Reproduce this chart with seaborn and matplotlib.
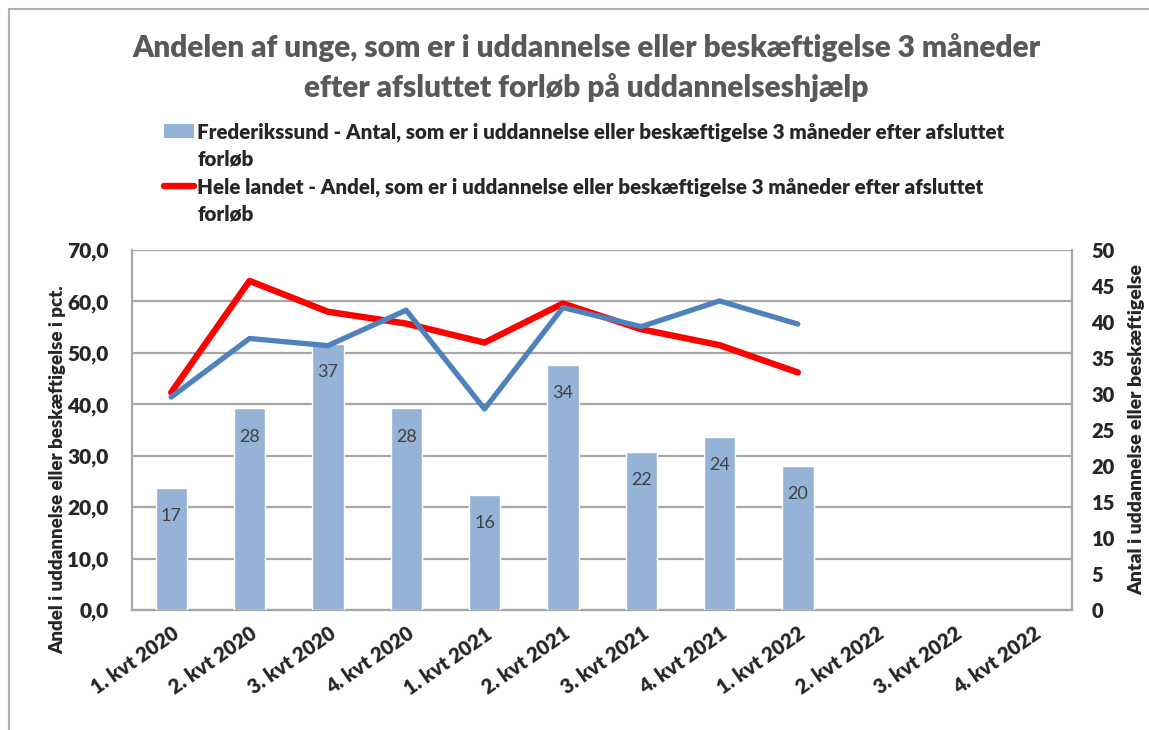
import numpy as np
import pandas as pd
import matplotlib
matplotlib.use("Agg")
import matplotlib.pyplot as plt
import seaborn as sns
from matplotlib.patches import Patch
from matplotlib.lines import Line2D
from matplotlib.ticker import FuncFormatter, MultipleLocator

# Data
quarters = ["1. kvt 2020", "2. kvt 2020", "3. kvt 2020", "4. kvt 2020",
            "1. kvt 2021", "2. kvt 2021", "3. kvt 2021", "4. kvt 2021",
            "1. kvt 2022", "2. kvt 2022", "3. kvt 2022", "4. kvt 2022"]
frederikssund_antal = [17, 28, 37, 28, 16, 34, 22, 24, 20]
frederikssund_andel = [41.4, 52.8, 51.4, 58.3, 39.1, 58.8, 55.1, 60.1, 55.6]
hele_landet_andel = [42.3, 64.0, 58.0, 55.7, 52.0, 59.6, 54.6, 51.5, 46.2]

title = ("Andelen af unge, som er i uddannelse eller beskæftigelse 3 måneder\n"
         "efter afsluttet forløb på uddannelseshjælp")
label_bars = "Frederikssund - Antal, som er i uddannelse eller beskæftigelse 3 måneder efter afsluttet"
label_red = "Hele landet - Andel, som er i uddannelse eller beskæftigelse 3 måneder efter afsluttet"
label_wrap = "forløb"
ylabel_left = "Andel i uddannelse eller beskæftigelse i pct."
ylabel_right = "Antal i uddannelse eller beskæftigelse"

BAR_COLOR = "#95b3d7"
BLUE = "#4f81bd"
RED = "#ff0000"
GRID = "#a6a6a6"
FONT = ["Lato", "DejaVu Sans"]
W = "heavy"

sns.set_style("white")
plt.rcParams["font.family"] = FONT

fig = plt.figure(figsize=(11.49, 7.30), dpi=100)
ax = fig.add_axes([0.1149, 0.1644, 0.8181, 0.4931])
ax_bar = ax.twinx()
ax_line = ax.twinx()
ax.set_zorder(1)
ax_bar.set_zorder(2)
ax_line.set_zorder(3)
ax_bar.patch.set_visible(False)
ax_line.patch.set_visible(False)

# bars on the secondary (right) axis
bars_df = pd.DataFrame({"kvartal": quarters[:len(frederikssund_antal)],
                        "antal": frederikssund_antal})
sns.barplot(data=bars_df, x="kvartal", y="antal", order=quarters,
            color=BAR_COLOR, width=0.4, saturation=1, ax=ax_bar)
for c in ax_bar.containers:
    ax_bar.bar_label(c, labels=[str(v) for v in frederikssund_antal],
                     padding=-26, color="#404040", fontsize=13)

# lines on the primary (left) axis
pos = np.arange(len(hele_landet_andel))
sns.lineplot(x=pos, y=hele_landet_andel, color=RED, linewidth=4.6,
             ax=ax_line, solid_capstyle="round", zorder=3)
sns.lineplot(x=pos, y=frederikssund_andel, color=BLUE, linewidth=3.8,
             ax=ax_line, solid_capstyle="round", zorder=4)

xlim = (-0.5, len(quarters) - 0.5)
for a in (ax, ax_bar, ax_line):
    a.set_xlim(*xlim)

ax.set_ylim(0, 70)
ax_line.set_ylim(0, 70)
ax_bar.set_ylim(0, 50)

# left axis: ticks and gridlines
ax.yaxis.set_major_locator(MultipleLocator(10))
ax.yaxis.set_major_formatter(FuncFormatter(lambda v, p: f"{v:.1f}".replace(".", ",")))
ax.grid(axis="y", color=GRID, linewidth=1.6)
ax.set_axisbelow(True)
ax.tick_params(axis="y", labelsize=15, length=0, pad=17)
for t in ax.get_yticklabels():
    t.set_fontweight(W)
ax.set_ylabel(ylabel_left, fontsize=13.5, fontweight=W)
ax.yaxis.set_label_coords(-0.07, 0.39)

# right axis
ax_bar.yaxis.set_major_locator(MultipleLocator(5))
ax_bar.tick_params(axis="y", labelsize=14.5, length=0, pad=14)
for t in ax_bar.get_yticklabels():
    t.set_fontweight(W)
ax_bar.set_ylabel(ylabel_right, fontsize=14, fontweight=W, labelpad=10)
ax_bar.set_xlabel("")

ax_line.set_yticks([])
ax_line.set_ylabel("")

# x axis labels
ax.set_xticks(range(len(quarters)))
ax.set_xticklabels(quarters, rotation=35, ha="right", rotation_mode="anchor",
                   fontsize=14.5, fontweight=W)
ax.tick_params(axis="x", length=0, pad=10)
ax_bar.tick_params(axis="x", bottom=False, labelbottom=False)
ax_line.tick_params(axis="x", bottom=False, labelbottom=False)

for a in (ax, ax_bar, ax_line):
    for s in a.spines.values():
        s.set_visible(False)
for s in ("left", "bottom", "right"):
    ax.spines[s].set_visible(True)
    ax.spines[s].set_color(GRID)
    ax.spines[s].set_linewidth(1.6)

fig.text(0.51, 0.955, title, ha="center", va="top", fontsize=21.5,
         fontweight=W, color="#595959", linespacing=1.45)

# legend: key sits on the first line of each wrapped label
blank = Patch(facecolor="none", edgecolor="none")
handles = [Patch(facecolor=BAR_COLOR, edgecolor="none"), blank,
           Line2D([0], [0], color=RED, linewidth=4.6), blank]
labels = [label_bars, label_wrap, label_red, label_wrap]
fig.legend(handles, labels, loc="upper left",
           bbox_to_anchor=(0.127, 0.858), frameon=False,
           prop={"family": FONT, "weight": W, "size": 14.8},
           handlelength=1.45, handletextpad=0.15, labelspacing=0.4)

# chart area border
fig.add_artist(Line2D([0.008, 0.008], [0, 0.988], color="#b0b0b0", linewidth=1.5))
fig.add_artist(Line2D([0.008, 1.0], [0.988, 0.988], color="#b0b0b0", linewidth=1.5))

fig.savefig("out.png", dpi=100)
